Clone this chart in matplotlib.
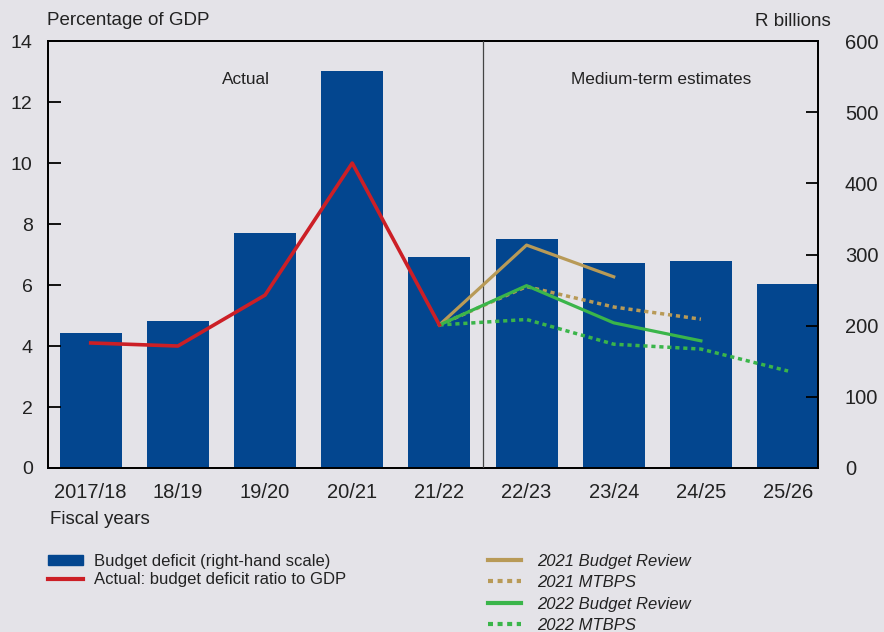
import numpy as np
import matplotlib
matplotlib.use("Agg")
import matplotlib.pyplot as plt
from matplotlib.lines import Line2D
from matplotlib.patches import Patch

plt.rcParams["font.family"] = ["Liberation Sans", "DejaVu Sans"]

years = ["2017/18", "18/19", "19/20", "20/21", "21/22",
         "22/23", "23/24", "24/25", "25/26"]
deficit_rbn = [190, 206, 330, 558, 296, 322, 288, 291, 259]

actual_ratio = [4.1, 4.0, 5.67, 10.0, 4.69]

br2021 = [4.69, 7.31, 6.27]          # 21/22 .. 23/24
mtbps2021 = [4.69, 5.95, 5.28, 4.88]  # 21/22 .. 24/25
br2022 = [4.69, 5.98, 4.76, 4.17]     # 21/22 .. 24/25
mtbps2022 = [4.69, 4.87, 4.06, 3.90, 3.18]  # 21/22 .. 25/26

BG = "#E4E3E8"
BLUE = "#03468F"
RED = "#CC1F26"
GOLD = "#B89A57"
GREEN = "#3AB54A"
TXT = "#222222"

fig = plt.figure(figsize=(8.84, 6.32), dpi=100, facecolor=BG)
ax = fig.add_axes([0.0543, 0.2595, 0.8707, 0.6755], facecolor=BG)
ax2 = ax.twinx()

x = np.arange(len(years))

ax2.bar(x, deficit_rbn, width=0.71, color=BLUE, zorder=1)
ax2.set_ylim(0, 600)
ax2.set_yticks(np.arange(0, 601, 100))

ax.set_zorder(ax2.get_zorder() + 1)
ax.patch.set_visible(False)

dot = (0, (1.2, 1.1))
ax.plot(x[:5], actual_ratio, color=RED, lw=2.6, zorder=5)
ax.plot(x[4:7], br2021, color=GOLD, lw=2.3, zorder=4)
ax.plot(x[4:8], mtbps2021, color=GOLD, lw=2.5, ls=dot, zorder=4)
ax.plot(x[4:8], br2022, color=GREEN, lw=2.3, zorder=4)
ax.plot(x[4:9], mtbps2022, color=GREEN, lw=2.5, ls=dot, zorder=4)

ax.axvline(4.5, color="#444444", lw=0.9, zorder=3)

ax.set_xlim(-0.49, 8.34)
ax.set_ylim(0, 14)
ax.set_yticks(np.arange(0, 15, 2))
ax.set_xticks(x)
ax.set_xticklabels(years)

for a in (ax, ax2):
    for s in a.spines.values():
        s.set_linewidth(1.3)
        s.set_color("black")
ax.tick_params(axis="y", direction="in", length=9, width=1.3,
               labelsize=14, labelcolor=TXT, pad=11)
ax.tick_params(axis="x", length=0, labelsize=14.5, labelcolor=TXT, pad=11)
ax2.tick_params(axis="y", direction="in", length=9, width=1.3,
                labelsize=14.5, labelcolor=TXT, pad=19.5)

ax.text(1.78, 12.75, "Actual", ha="center", va="center", fontsize=12.4,
        color=TXT)
ax.text(6.54, 12.75, "Medium-term estimates", ha="center", va="center",
        fontsize=12.4, color=TXT)

fig.text(0.053, 0.968, "Percentage of GDP", ha="left", va="center",
         fontsize=13.5, color=TXT)
fig.text(0.94, 0.966, "R billions", ha="right", va="center",
         fontsize=13.5, color=TXT)
fig.text(0.057, 0.178, "Fiscal years", ha="left", va="center",
         fontsize=13.5, color=TXT)

h1 = [Patch(facecolor=BLUE, edgecolor=BLUE),
      Line2D([], [], color=RED, lw=3)]
l1 = ["Budget deficit (right-hand scale)",
      "Actual: budget deficit ratio to GDP"]
leg1 = fig.legend(h1, l1, loc="upper left", bbox_to_anchor=(0.047, 0.134),
                  frameon=False, fontsize=12, handlelength=2.1,
                  handleheight=0.6, labelspacing=0.2, handletextpad=0.65,
                  borderaxespad=0)
for t in leg1.get_texts():
    t.set_color(TXT)

h2 = [Line2D([], [], color=GOLD, lw=3),
      Line2D([], [], color=GOLD, lw=3, ls=dot),
      Line2D([], [], color=GREEN, lw=3),
      Line2D([], [], color=GREEN, lw=3, ls=dot)]
l2 = ["2021 Budget Review", "2021 MTBPS",
      "2022 Budget Review", "2022 MTBPS"]
leg2 = fig.legend(h2, l2, loc="upper left", bbox_to_anchor=(0.544, 0.134),
                  frameon=False, fontsize=12, handlelength=2.0,
                  labelspacing=0.38, handletextpad=1.0, borderaxespad=0)
for t in leg2.get_texts():
    t.set_color(TXT)
    t.set_style("italic")

fig.savefig("out.png", dpi=100, facecolor=BG)
